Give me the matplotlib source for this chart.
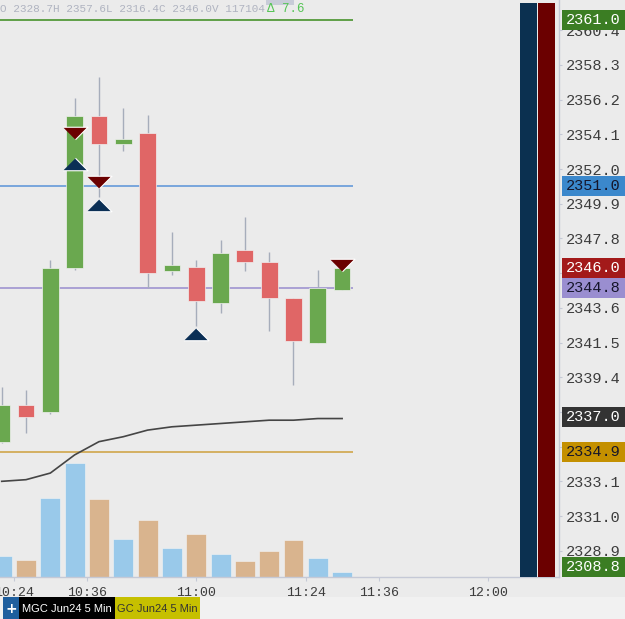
import matplotlib
matplotlib.use("Agg")
import matplotlib.pyplot as plt
import matplotlib.transforms as mtransforms
from matplotlib.patches import Rectangle
import numpy as np

# MGC Jun24 5 Min bars (index 0 is the bar cut off at the left edge)
opens  = [2335.5, 2337.7, 2337.3, 2346.0, 2355.2, 2353.5, 2354.2, 2345.8, 2346.1, 2343.9, 2347.1, 2346.4, 2344.2, 2341.5, 2344.7]
highs  = [2338.8, 2338.6, 2346.5, 2356.3, 2357.6, 2355.7, 2355.3, 2348.2, 2346.5, 2347.7, 2349.1, 2347.0, 2344.2, 2345.9, 2346.0]
lows   = [2335.4, 2336.0, 2337.2, 2345.9, 2350.3, 2353.1, 2344.8, 2345.6, 2342.5, 2343.3, 2345.8, 2342.2, 2338.9, 2341.5, 2344.7]
closes = [2337.7, 2337.0, 2346.0, 2355.2, 2353.5, 2353.8, 2345.7, 2346.2, 2344.0, 2346.9, 2346.4, 2344.2, 2341.6, 2344.8, 2346.0]
volume = [2070, 1730, 7900, 11400, 7800, 3800, 5700, 2900, 4300, 2300, 1600, 2600, 3700, 1900, 500]
vwap   = [2333.1, 2333.2, 2333.6, 2334.7, 2335.5, 2335.8, 2336.2, 2336.4, 2336.5, 2336.6, 2336.7, 2336.8, 2336.8, 2336.9, 2336.9]

# signal arrows
sell_bars = [3, 4, 14]
sell_px = [2354.2, 2351.2, 2346.2]
buy_bars = [3, 4, 8]
buy_px = [2352.3, 2349.8, 2342.0]

# horizontal levels drawn on the chart
level_px = [2361.0, 2351.0, 2344.8, 2334.9]
level_col = ['#5f9f47', '#78a6dc', '#aaa0d4', '#d4b062']

# price flags on the right axis
flag_px = [2361.0, 2351.0, 2346.0, 2344.8, 2337.0, 2334.9, 2308.8]
flag_bg = ['#3b7d23', '#3b88cc', '#a31a1a', '#9a8ed0', '#333333', '#c49000', '#3b7d23']
flag_fg = ['white', '#15152a', 'white', '#15152a', 'white', '#15152a', 'white']

price_ticks = [2360.4, 2358.3, 2356.2, 2354.1, 2352.0, 2349.9, 2347.8, 2345.7,
               2343.6, 2341.5, 2339.4, 2337.3, 2335.2, 2333.1, 2331.0, 2328.9]
time_labels = ['10:24', '10:36', '11:00', '11:24', '11:36', '12:00']
time_pos = [0.5, 3.5, 8.0, 12.5, 15.5, 20.0]

header = "O 2328.7H 2357.6L 2316.4C 2346.0V 117104"
header_chg = "\u0394 7.6"

W, H = 625, 619
BG = '#ebebeb'
MONO = 'Liberation Mono'

fig = plt.figure(figsize=(W / 100, H / 100), dpi=100, facecolor=BG)
rect = [0, (H - 577) / H, 559 / W, 577 / H]

ax_vol = fig.add_axes(rect)
ax_vol.set_zorder(0)
ax_vol.set_facecolor(BG)
ax = fig.add_axes(rect)
ax.set_zorder(1)
ax.patch.set_visible(False)

x = np.arange(len(opens))
xlim = (-0.07, 22.92)
ylim = (2327.31, 2362.23)

# volume
vol_col = ['#99c9ea' if c >= o else '#d9b48e' for o, c in zip(opens, closes)]
ax_vol.bar(x, volume, width=0.82, color=vol_col, edgecolor='#f4f4f4', linewidth=0.4)
ax_vol.set_xlim(xlim)
ax_vol.set_ylim(0, 57700)
ax_vol.axis('off')

# levels
for p, c in zip(level_px, level_col):
    ax.hlines(p, xlim[0], 14.45, color=c, lw=1.4, zorder=2)

ax.plot(x, vwap, color='#454545', lw=1.2, zorder=3)

# candles
for i in range(len(opens)):
    up = closes[i] >= opens[i]
    col = '#6aa84f' if up else '#e06666'
    ax.vlines(i, lows[i], highs[i], color='#a6adbb', lw=1.0, zorder=3)
    lo = min(opens[i], closes[i])
    hgt = max(abs(closes[i] - opens[i]), 0.08)
    ax.bar(i, hgt, bottom=lo, width=0.69, color=col, edgecolor='#f0f0f0', linewidth=0.5, zorder=4)

tri_dn = [(-1, 0.5), (1, 0.5), (0, -0.5)]
tri_up = [(-1, -0.5), (1, -0.5), (0, 0.5)]
ax.plot(sell_bars, sell_px, ls='none', marker=tri_dn, ms=18, mfc='#6b0000', mec='white', mew=0.8, zorder=6)
ax.plot(buy_bars, buy_px, ls='none', marker=tri_up, ms=18, mfc='#0b2f55', mec='white', mew=0.8, zorder=6)

# right-side colour bars
ax.add_patch(Rectangle((520 / 559, 0), 17 / 559, 574 / 577, transform=ax.transAxes,
                       fc='#0b3050', ec='none', zorder=7))
ax.add_patch(Rectangle((538 / 559, 0), 17 / 559, 574 / 577, transform=ax.transAxes,
                       fc='#6b0000', ec='none', zorder=7))

ax.set_xlim(xlim)
ax.set_ylim(ylim)

# axes styling
for s in ['left', 'top']:
    ax.spines[s].set_visible(False)
for s in ['bottom', 'right']:
    ax.spines[s].set_color('#c5c9d6')
    ax.spines[s].set_linewidth(1)

ax.yaxis.tick_right()
ax.set_yticks(price_ticks)
ax.set_yticklabels([f"{v:.1f}" for v in price_ticks], fontfamily=MONO, fontsize=11, color='#3c3c3c')
ax.tick_params(axis='y', length=2.2, pad=2.5, color='#c5c9d6')

ax.set_xticks(time_pos)
ax.set_xticklabels(time_labels, fontfamily=MONO, fontsize=9.5, color='#3c3c3c')
ax.tick_params(axis='x', length=3, pad=4.5, color='#c5c9d6')

# price flags
px_per = 577 / (ylim[1] - ylim[0])
box_h = 20 / px_per
trans = mtransforms.blended_transform_factory(ax.transAxes, ax.transData)
for v, bg, fg in zip(flag_px, flag_bg, flag_fg):
    yc = max(v, ylim[0] + box_h / 2)
    ax.add_patch(Rectangle((562 / 559, yc - box_h / 2), 63 / 559, box_h, transform=trans,
                           fc=bg, ec='none', clip_on=False, zorder=10))
    ax.text(565.5 / 559, yc, f"{v:.1f}", transform=trans, ha='left', va='center',
            fontfamily=MONO, fontsize=11, color=fg, zorder=11, clip_on=False)

# header
fig.patches.append(Rectangle((266 / W, (H - 5) / H), 28 / W, 5 / H, transform=fig.transFigure,
                             fc='#c8ccd8', ec='none'))
fig.text(0, (H - 9) / H, header, ha='left', va='center', fontfamily=MONO,
         fontsize=7.9, color='#afb3c0')
fig.text(267 / W, (H - 9) / H, header_chg, ha='left', va='center', fontfamily=MONO,
         fontsize=9, color='#55c455')

# bottom tab strip
fig.patches.append(Rectangle((0, 0), 1, 22 / H, transform=fig.transFigure, fc='#f1f1f1', ec='none'))
fig.patches.append(Rectangle((3 / W, 0), 16 / W, 22 / H, transform=fig.transFigure, fc='#1f5f9e', ec='none'))
fig.patches.append(Rectangle((19 / W, 0), 96 / W, 22 / H, transform=fig.transFigure, fc='black', ec='none'))
fig.patches.append(Rectangle((115 / W, 0), 85 / W, 22 / H, transform=fig.transFigure, fc='#c6c000', ec='none'))
fig.text(11 / W, 10 / H, '+', ha='center', va='center', color='white', fontsize=10, fontweight='bold')
fig.text(67 / W, 10 / H, 'MGC Jun24 5 Min', ha='center', va='center', color='white',
         fontfamily='Liberation Sans', fontsize=8)
fig.text(157 / W, 10 / H, 'GC Jun24 5 Min', ha='center', va='center', color='#333333',
         fontfamily='Liberation Sans', fontsize=8)

fig.savefig('out.png', dpi=100, facecolor=BG)
